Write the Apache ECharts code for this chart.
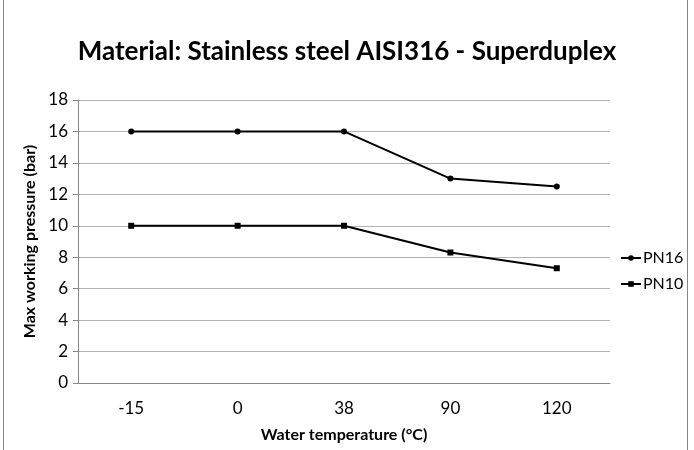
<!DOCTYPE html>
<html>
<head>
<meta charset="utf-8">
<script src="https://cdn.jsdelivr.net/npm/echarts@6/dist/echarts.min.js"></script>
<style>
  html, body { margin: 0; padding: 0; background: #fff; }
  #chart { width: 694px; height: 450px; }
</style>
</head>
<body>
<div id="chart"></div>
<script>
const temperatures = ['-15', '0', '38', '90', '120'];
const pn16 = [16, 16, 16, 13, 12.5];
const pn10 = [10, 10, 10, 8.3, 7.3];

const chart = echarts.init(document.getElementById('chart'));
const font = 'Lato, "Open Sans", sans-serif';

chart.setOption({
  backgroundColor: '#fff',
  textStyle: { fontFamily: font },
  title: {
    text: 'Material: Stainless steel AISI316 - Superduplex',
    left: 'center',
    top: 34,
    textStyle: { fontSize: 26, fontWeight: 'bold', color: '#000', fontFamily: font }
  },
  legend: {
    orient: 'vertical',
    left: 615,
    top: 245,
    itemGap: 10,
    itemWidth: 20,
    itemHeight: 7,
    textStyle: { fontSize: 16, color: '#000', fontFamily: font, padding: [0, 0, 0, -3] },
    data: ['PN16', 'PN10']
  },
  grid: { left: 78, right: 84, top: 100, bottom: 67 },
  xAxis: {
    type: 'category',
    data: temperatures,
    name: 'Water temperature (°C)',
    nameLocation: 'middle',
    nameGap: 44,
    nameTextStyle: { fontSize: 16, fontWeight: 'bold', color: '#000' },
    axisLine: { lineStyle: { color: '#868686' } },
    axisTick: { show: false },
    axisLabel: { fontSize: 17, color: '#000', margin: 17 }
  },
  yAxis: {
    type: 'value',
    min: 0,
    max: 18,
    interval: 2,
    name: 'Max working pressure (bar)',
    nameLocation: 'middle',
    nameGap: 38,
    nameTextStyle: { fontSize: 16, fontWeight: 'bold', color: '#000' },
    axisLine: { show: true, lineStyle: { color: '#868686' } },
    axisTick: { show: true, length: 5, lineStyle: { color: '#868686' } },
    axisLabel: { fontSize: 17, color: '#000', margin: 10 },
    splitLine: { lineStyle: { color: '#b3b3b3' } }
  },
  series: [
    {
      name: 'PN16',
      type: 'line',
      data: pn16,
      symbol: 'circle',
      symbolSize: 6,
      lineStyle: { color: '#000', width: 2 },
      itemStyle: { color: '#000' }
    },
    {
      name: 'PN10',
      type: 'line',
      data: pn10,
      symbol: 'rect',
      symbolSize: 6,
      lineStyle: { color: '#000', width: 2 },
      itemStyle: { color: '#000' }
    }
  ],
  graphic: [{
    type: 'rect',
    shape: { x: 3.5, y: -2, width: 684, height: 460 },
    style: { fill: 'none', stroke: '#868686', lineWidth: 1 },
    silent: true
  }]
});
</script>
</body>
</html>
